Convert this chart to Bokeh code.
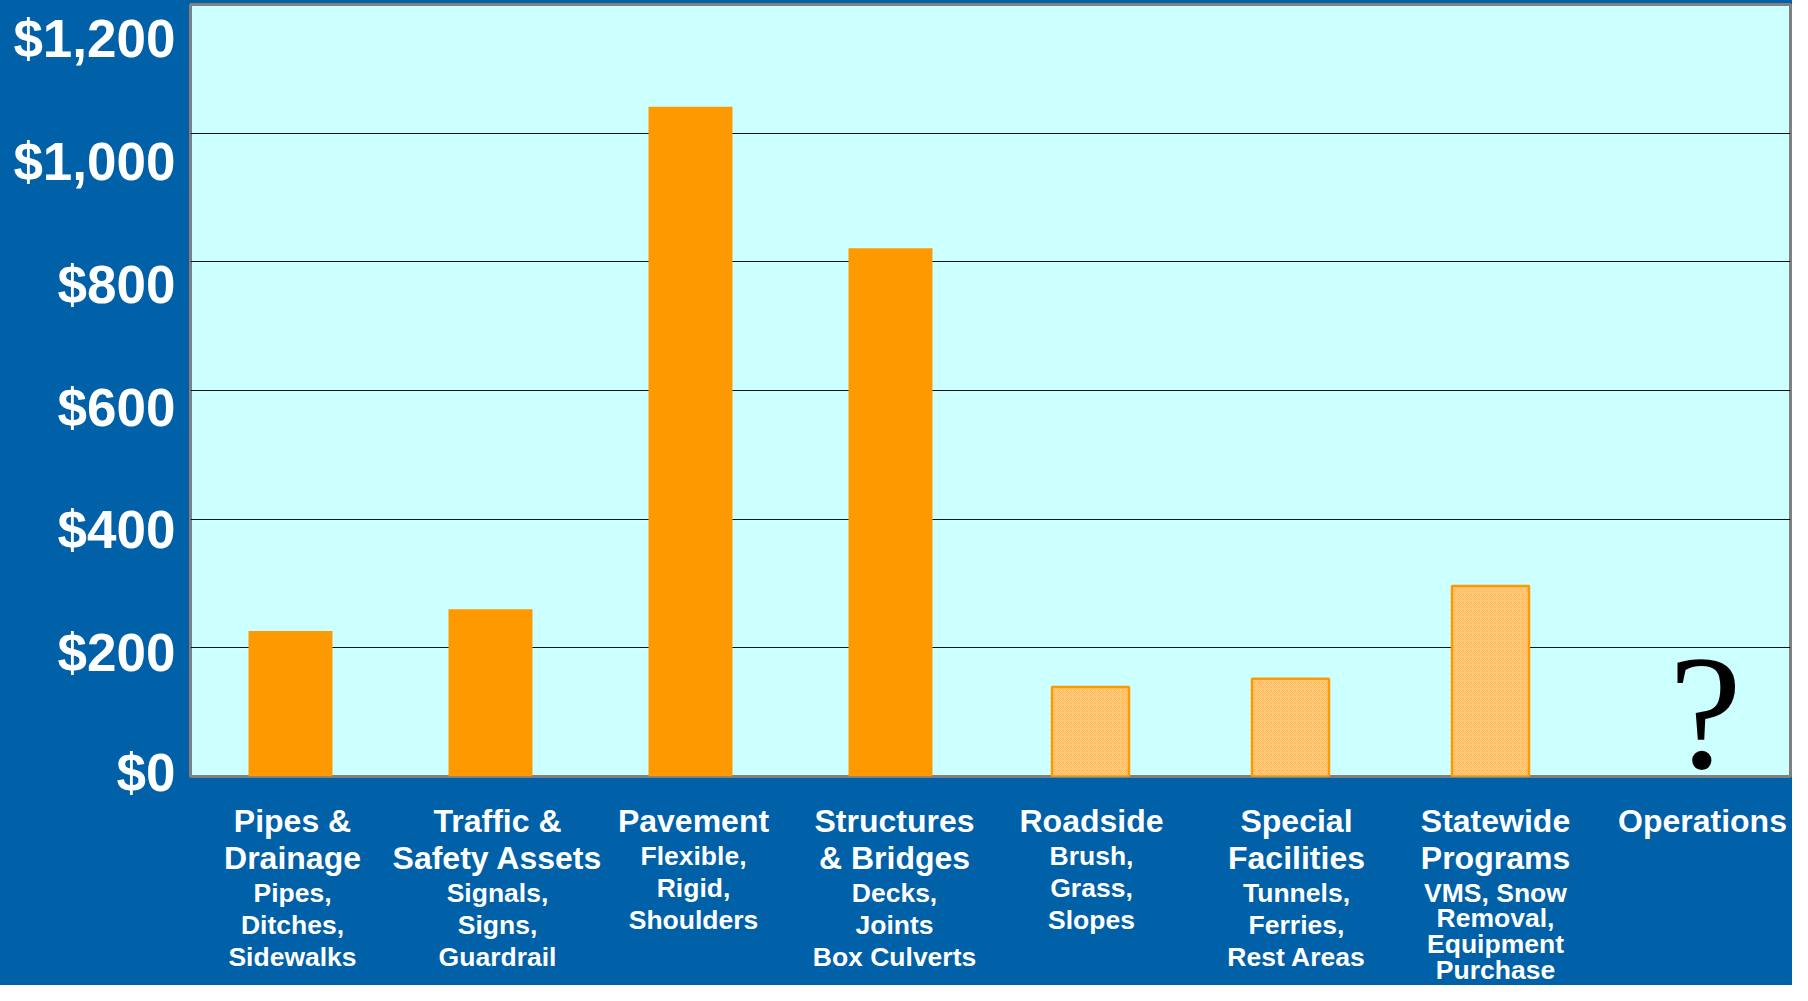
from bokeh.plotting import figure
from bokeh.layouts import column
from bokeh.models import (FactorRange, Range1d, LinearAxis, FixedTicker,
                          NumeralTickFormatter, ColumnDataSource)
from bokeh.core.properties import value
from bokeh.embed import file_html
from bokeh.resources import INLINE

# ---------------- data ----------------
categories = ["Pipes & Drainage", "Traffic & Safety Assets", "Pavement",
              "Structures & Bridges", "Roadside", "Special Facilities",
              "Statewide Programs", "Operations"]
title_lines = [["Pipes &", "Drainage"], ["Traffic &", "Safety Assets"], ["Pavement"],
               ["Structures", "& Bridges"], ["Roadside"], ["Special", "Facilities"],
               ["Statewide", "Programs"], ["Operations"]]
detail_lines = [["Pipes,", "Ditches,", "Sidewalks"],
                ["Signals,", "Signs,", "Guardrail"],
                ["Flexible,", "Rigid,", "Shoulders"],
                ["Decks,", "Joints", "Box Culverts"],
                ["Brush,", "Grass,", "Slopes"],
                ["Tunnels,", "Ferries,", "Rest Areas"],
                ["VMS, Snow", "Removal,", "Equipment", "Purchase"],
                []]
solid_categories = ["Pipes & Drainage", "Traffic & Safety Assets", "Pavement",
                    "Structures & Bridges"]
solid_values = [226, 260, 1041, 821]
estimate_categories = ["Roadside", "Special Facilities", "Statewide Programs"]
estimate_values = [139, 152, 296]
unknown_category = "Operations"
unknown_text = "?"
y_ticks = [0, 200, 400, 600, 800, 1000, 1200]

# ---------------- styling / layout ----------------
BLUE = "#0060A8"
CYAN = "#CCFFFF"
ORANGE = "#FF9900"
LIGHT_ORANGE = "#FFCC80"
FONT = "Liberation Sans"

W, H = 1792, 985
LEFT, RIGHT = 190, 2
TOP = 4
FRAME_BOTTOM_PX = 776          # canvas y of the value axis baseline
MAIN_H = 801                   # leaves room for the "$0" label
LABEL_H = H - MAIN_H
y_max = 1200.0
units_per_px = y_max / (FRAME_BOTTOM_PX - TOP)

x_range = FactorRange(*categories, range_padding=0)

p = figure(width=W, height=MAIN_H, x_range=x_range,
           y_range=Range1d(0, y_max), output_backend="svg", toolbar_location=None,
           min_border_top=TOP, min_border_bottom=MAIN_H - FRAME_BOTTOM_PX,
           min_border_left=LEFT, min_border_right=RIGHT)
p.background_fill_color = CYAN
p.border_fill_color = BLUE
p.outline_line_color = "#808080"
p.outline_line_width = 3

p.xaxis.visible = False
p.yaxis.visible = False
p.yaxis.ticker = FixedTicker(ticks=y_ticks)
p.xgrid.grid_line_color = None
p.ygrid.grid_line_color = "#111111"
p.ygrid.grid_line_width = 1.2

# label axis (labels sit slightly off the grid lines in the original)
LAB0_PX, LAB_STEP_PX = 775, 122.8
lab_lo = -(FRAME_BOTTOM_PX - LAB0_PX) * 200 / LAB_STEP_PX
lab_hi = (LAB0_PX - TOP) * 200 / LAB_STEP_PX
p.extra_y_ranges = {"labels": Range1d(lab_lo, lab_hi)}
ax = LinearAxis(y_range_name="labels", ticker=FixedTicker(ticks=y_ticks),
                formatter=NumeralTickFormatter(format="$0,0"))
ax.axis_line_color = None
ax.major_tick_line_color = None
ax.minor_tick_line_color = None
ax.major_tick_out = 0
ax.major_tick_in = 0
ax.major_label_standoff = 15
ax.major_label_text_font = FONT
ax.major_label_text_font_style = "bold"
ax.major_label_text_font_size = "53px"
ax.major_label_text_color = "white"
p.add_layout(ax, "left")

# bars
solid_src = ColumnDataSource(dict(x=solid_categories, top=solid_values))
p.vbar(x="x", top="top", width=0.42, source=solid_src,
       fill_color=ORANGE, line_color=None)

est_src = ColumnDataSource(dict(x=estimate_categories, top=estimate_values))
p.vbar(x="x", top="top", width=0.385, source=est_src,
       fill_color=LIGHT_ORANGE, line_color=ORANGE, line_width=2.5,
       hatch_pattern="diagonal_cross", hatch_color="#FFB347",
       hatch_scale=4, hatch_weight=1, hatch_alpha=0.7)

# question mark for the unknown category (centre of the glyph at ~712px)
q_src = ColumnDataSource(dict(x=[unknown_category],
                              y=[(FRAME_BOTTOM_PX - 712) * units_per_px],
                              text=[unknown_text]))
p.text(x="x", y="y", text="text", source=q_src, x_offset=15,
       text_font=value("Liberation Serif"), text_font_size="164px",
       text_color="black", text_align="center", text_baseline="middle")

# ---------------- category labels (separate strip below) ----------------
lab = figure(width=W, height=LABEL_H, x_range=x_range,
             y_range=Range1d(H, MAIN_H), output_backend="svg", toolbar_location=None,
             min_border_top=0, min_border_bottom=0,
             min_border_left=LEFT, min_border_right=RIGHT)
lab.background_fill_color = BLUE
lab.border_fill_color = BLUE
lab.outline_line_color = None
lab.xaxis.visible = False
lab.yaxis.visible = False
lab.grid.visible = False

TITLE_Y0 = 820
TITLE_STEP = 37
DETAIL_GAP = 35
DETAIL_STEP = 32
LAST_LINE_MAX = 969          # keep the lowest line inside the canvas
X_NUDGE = [2, 7, 3, 4, 1, 6, 5, 12]   # small horizontal offsets of the label blocks
tx, ty, tt, to, dx, dy, dt, do = [], [], [], [], [], [], [], []
for cat, tl, dl, nx in zip(categories, title_lines, detail_lines, X_NUDGE):
    yy = TITLE_Y0
    for i, line in enumerate(tl):
        yy = TITLE_Y0 + i * TITLE_STEP
        tx.append(cat); ty.append(yy); tt.append(line); to.append(nx)
    y0 = yy + DETAIL_GAP
    step = DETAIL_STEP
    if len(dl) > 1:
        step = min(DETAIL_STEP, (LAST_LINE_MAX - y0) / (len(dl) - 1))
    for j, line in enumerate(dl):
        dx.append(cat); dy.append(y0 + j * step); dt.append(line); do.append(nx)

lab.text(x="x", y="y", text="t", x_offset="o",
         source=ColumnDataSource(dict(x=tx, y=ty, t=tt, o=to)),
         text_font=value(FONT), text_font_style="bold", text_font_size="32px",
         text_color="white", text_align="center", text_baseline="middle")
lab.text(x="x", y="y", text="t", x_offset="o",
         source=ColumnDataSource(dict(x=dx, y=dy, t=dt, o=do)),
         text_font=value(FONT), text_font_style="bold", text_font_size="26.5px",
         text_color="white", text_align="center", text_baseline="middle")

layout = column(p, lab, spacing=0)
layout.styles = {"background-color": BLUE}
open("out.html", "w").write(file_html(layout, INLINE))
